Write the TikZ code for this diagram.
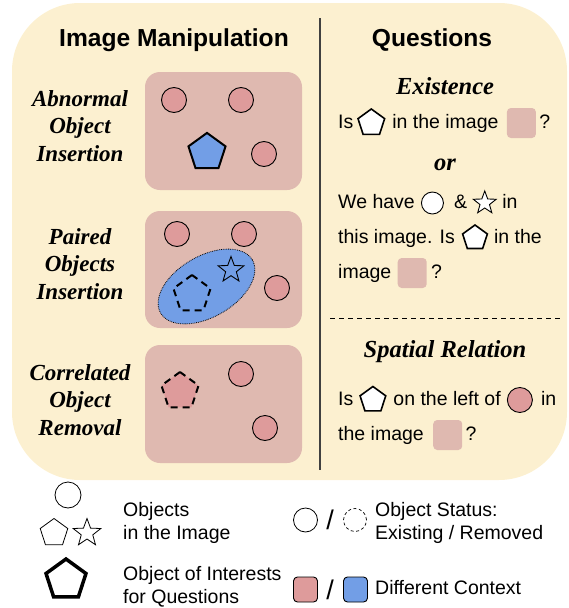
\documentclass[tikz,border=0pt]{standalone}
\usepackage{fontspec}
\setmainfont{Liberation Serif}
\setsansfont{Liberation Sans}
\usetikzlibrary{shapes.geometric, positioning}
\definecolor{cream}{RGB}{252,240,208}
\definecolor{scenebg}{RGB}{223,185,176}
\definecolor{rosedot}{RGB}{222,155,155}
\definecolor{bluectx}{RGB}{114,158,230}

\begin{document}
\begin{tikzpicture}[x=1pt, y=-1pt,
	obj/.style={circle, draw, fill=rosedot, line width=0.9pt, minimum size=25, inner sep=0},
	pent/.style={regular polygon, regular polygon sides=5, draw, fill=white, inner sep=0, minimum size=28, line width=1.6pt},
	starobj/.style={star, star points=5, star point ratio=2.4, draw, fill=white, inner sep=0, minimum size=27, line width=0.9pt},
	scene/.style={fill=scenebg, rounded corners=15pt},
	lbl/.style={font=\fontsize{23}{27.5}\selectfont\bfseries\itshape, align=center},
	head/.style={font=\fontsize{24.5}{29}\selectfont\bfseries\itshape},
	title/.style={font=\sffamily\fontsize{24.6}{29}\selectfont\bfseries},
	txt/.style={font=\sffamily\fontsize{19.5}{24}\selectfont, inner sep=0, text height=14pt, text depth=4pt},
	ctx/.style={fill=scenebg, rounded corners=4pt, minimum width=29, minimum height=30, inner sep=0},
	leg/.style={font=\sffamily\fontsize{19.5}{23}\selectfont, inner sep=0, anchor=west, align=left},
	slash/.style={font=\sffamily\fontsize{27}{30}\selectfont, inner sep=0},
	swatch/.style={draw, rounded corners=4pt, minimum width=24, minimum height=25, line width=0.9pt, inner sep=0},
	removed/.style={dash pattern=on 7pt off 5pt, line width=2pt, minimum size=39}]
	\useasboundingbox (0,0) rectangle (568,608);
	%%% Sfondo
	\fill[cream, rounded corners=68pt] (12,3) rectangle (567,480);
	\draw[line width=1.2pt, black!75] (320,18) -- (320,470);
	\draw[line width=1pt, dash pattern=on 5pt off 4pt] (330,318) -- (560,318);
	\node[title] (t1) at (174,40) {Image Manipulation};
	\node[title] (t2) at (432,40) {Questions};
	
	%%% Immagini
	\fill[scene] (145,72) rectangle (302,190);
	\fill[scene] (145,211) rectangle (302,328);
	\fill[scene] (145,345) rectangle (302,463);
	\node[lbl] (l1) at (80,126) {Abnormal\\Object\\Insertion};
	\node[lbl] (l2) at (80,264) {Paired\\Objects\\Insertion};
	\node[lbl] (l3) at (80,400) {Correlated\\Object\\Removal};
	
	\node[obj] (a1) at (174,100) {};
	\node[obj] (a2) at (241,100) {};
	\node[obj] (a3) at (264,154) {};
	\node[pent, fill=bluectx, minimum size=39, line width=2pt] (a4) at (207,152.4) {};
	
	\node[obj] (b1) at (177,234) {};
	\node[obj] (b2) at (244,234) {};
	\node[obj] (b3) at (277,288) {};
	\node[ellipse, draw, fill=bluectx, densely dotted, line width=0.8pt, minimum width=106, minimum height=61, rotate=30, inner sep=0] (b4) at (206.5,286.5) {};
	\node[starobj, fill=none] (b5) at (231,270) {};
	\node[pent, fill=none, removed] (b6) at (192,294.5) {};
	
	\node[pent, fill=rosedot, removed] (c1) at (180,391.5) {};
	\node[obj] (c2) at (241,374) {};
	\node[obj] (c3) at (265,428) {};
	
	%%% Domande
	\node[head] (h1) at (445,86) {Existence};
	\node[txt, anchor=west] (q1) at (338,123) {Is};
	\node[pent, right=5pt of q1] (q1p) {};
	\node[txt, right=8pt of q1p] (q1t) {in the image};
	\node[ctx, right=8pt of q1t] (q1c) {};
	\node[txt, right=3pt of q1c] (q1q) {?};
	
	\node[head] (h2) at (445,165) {or};
	\node[txt, anchor=west] (q2) at (338,203) {We have};
	\node[obj, fill=white, minimum size=22, right=6pt of q2] (q2o) {};
	\node[txt, right=10pt of q2o] (q2a) {\&};
	\node[starobj, minimum size=24, right=10pt of q2a] (q2s) {};
	\node[txt, right=10pt of q2s] (q2i) {in};
	\node[txt, anchor=west] (q3) at (338,238) {this image. Is};
	\node[pent, minimum size=26, right=8pt of q3] (q3p) {};
	\node[txt, right=7pt of q3p] (q3t) {in the};
	\node[txt, anchor=west] (q4) at (338,273) {image};
	\node[ctx, right=6pt of q4] (q4c) {};
	\node[txt, right=4pt of q4c] (q4q) {?};
	
	\node[head] (h3) at (445,352) {Spatial Relation};
	\node[txt, anchor=west] (s1) at (338,400) {Is};
	\node[pent, minimum size=27, right=7pt of s1] (s1p) {};
	\node[txt, right=8pt of s1p] (s1t) {on the left of};
	\node[obj, right=6pt of s1t] (s1o) {};
	\node[txt, right=8pt of s1o] (s1i) {in};
	\node[txt, anchor=west] (s2) at (338,435) {the image};
	\node[ctx, right=9pt of s2] (s2c) {};
	\node[txt, right=3pt of s2c] (s2q) {?};
	
	%%% Legenda
	\node[obj, fill=white, minimum size=26, line width=0.8pt] (k1) at (68,495) {};
	\node[pent, minimum size=29, line width=0.8pt] (k2) at (54,533) {};
	\node[starobj, minimum size=29, line width=0.8pt] (k3) at (87,533) {};
	\node[leg] (k4) at (123,523) {Objects\\in the Image};
	\node[pent, minimum size=42, line width=3.5pt] (k5) at (66,580) {};
	\node[leg] (k6) at (123,587) {Object of Interests\\for Questions};
	
	\node[obj, fill=white, minimum size=24, line width=0.8pt] (k7) at (305.5,520) {};
	\node[slash] (k8) at (330,520) {/};
	\node[obj, fill=none, minimum size=23, line width=0.7pt, dash pattern=on 3pt off 2.5pt] (k9) at (355,520) {};
	\node[leg] (k10) at (375,523) {Object Status:\\Existing / Removed};
	\node[swatch, fill=rosedot] (k11) at (305.5,589.5) {};
	\node[slash] (k12) at (330,589.5) {/};
	\node[swatch, fill=bluectx] (k13) at (355.5,589.5) {};
	\node[leg] (k14) at (375,588) {Different Context};
\end{tikzpicture}
\end{document}
